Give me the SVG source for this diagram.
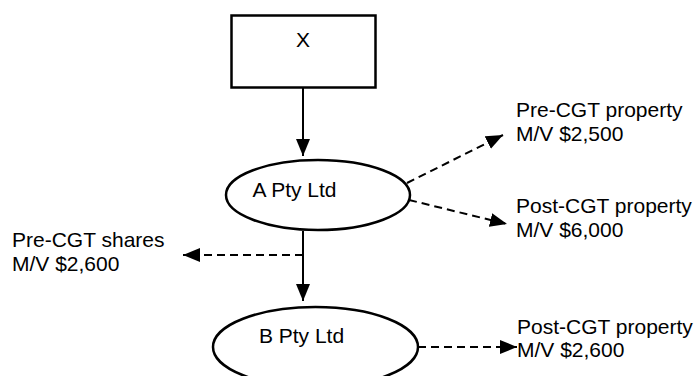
<svg xmlns="http://www.w3.org/2000/svg" width="699" height="376" viewBox="0 0 699 376">
<style>
.t{font-family:"Liberation Sans",Arial,sans-serif;font-size:21px;fill:#000}
.n{fill:#fff;stroke:#000;stroke-width:2.5}
.c{stroke:#000;stroke-width:2;fill:none}
.d{stroke-dasharray:8,5}
</style>
<defs>
<marker id="ah" viewBox="0 0 17 14" refX="17" refY="7" markerWidth="17" markerHeight="14" markerUnits="userSpaceOnUse" orient="auto">
<path d="M0,0 L17,7 L0,14 Z" fill="#000"/>
</marker>
</defs>
<rect width="699" height="376" fill="#fff"/>
<g id="connectors">
<line class="c" x1="303" y1="88" x2="303" y2="156" marker-end="url(#ah)"/>
<line class="c" x1="303" y1="231" x2="303" y2="301" marker-end="url(#ah)"/>
<line class="c d" x1="303" y1="255" x2="183" y2="255" marker-end="url(#ah)"/>
<line class="c d" x1="407" y1="183" x2="503" y2="135" marker-end="url(#ah)"/>
<line class="c d" x1="409" y1="200" x2="507" y2="224" marker-end="url(#ah)"/>
<line class="c d" x1="418" y1="347" x2="517" y2="347" marker-end="url(#ah)"/>
</g>
<g id="nodeX">
<rect class="n" x="231.5" y="15.5" width="144" height="72" stroke-width="3"/>
<text class="t" x="303" y="47" text-anchor="middle">X</text>
</g>
<g id="nodeA">
<ellipse class="n" cx="318" cy="195" rx="92" ry="35"/>
<text class="t" x="294.5" y="197" text-anchor="middle">A Pty Ltd</text>
</g>
<g id="nodeB">
<ellipse class="n" cx="315.5" cy="347" rx="102.5" ry="40"/>
<text class="t" x="301.5" y="343" text-anchor="middle">B Pty Ltd</text>
</g>
<g id="label-pre-shares">
<text class="t" x="12" y="247">Pre-CGT shares</text>
<text class="t" x="12" y="271">M/V $2,600</text>
</g>
<g id="label-pre-property">
<text class="t" x="516" y="117">Pre-CGT property</text>
<text class="t" x="516" y="141">M/V $2,500</text>
</g>
<g id="label-post-property-a">
<text class="t" x="516" y="213">Post-CGT property</text>
<text class="t" x="516" y="237">M/V $6,000</text>
</g>
<g id="label-post-property-b">
<text class="t" x="517" y="334">Post-CGT property</text>
<text class="t" x="517" y="357">M/V $2,600</text>
</g>
</svg>
